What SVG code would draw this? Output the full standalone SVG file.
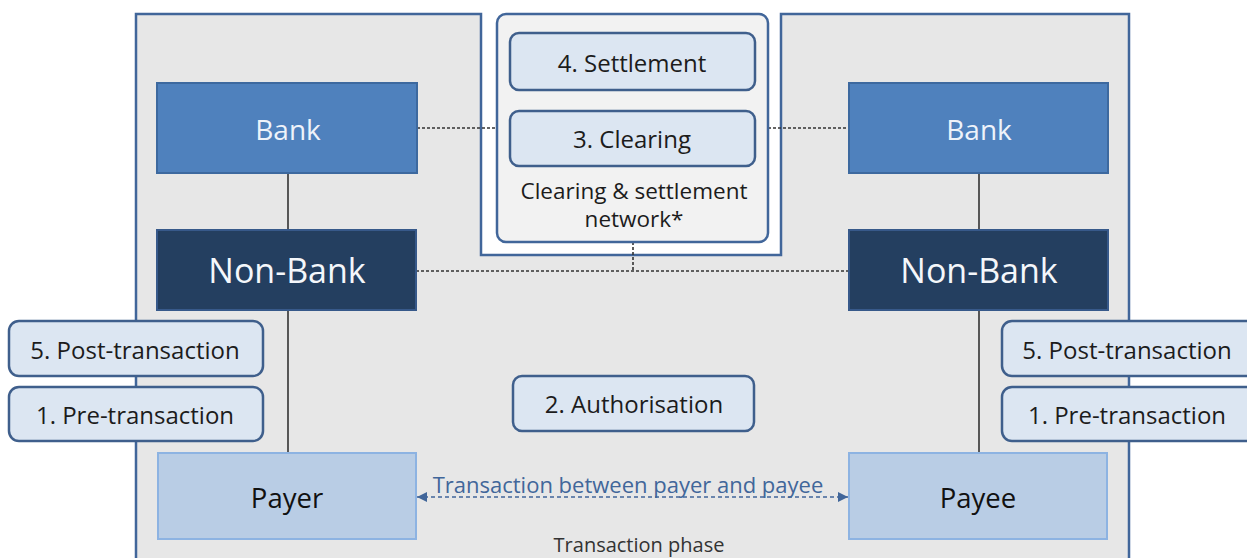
<svg xmlns="http://www.w3.org/2000/svg" width="1247" height="558" viewBox="0 0 1247 558">
<style>
text{font-family:"Open Sans","Noto Sans","DejaVu Sans",sans-serif;text-anchor:middle}
.phase{fill:#dce6f2;stroke:#3f5f8c;stroke-width:2.5}
.pt{font-size:24px;fill:#1c1c1c}
.net{font-size:22.5px;fill:#1c1c1c}
.bank{fill:#4f81bd;stroke:#3d699f;stroke-width:2}
.nb{fill:#243f60;stroke:#37598a;stroke-width:2}
.party{fill:#b9cde5;stroke:#8db3e2;stroke-width:2}
.solid{stroke:#333;stroke-width:1.6;fill:none}
.dash{stroke:#333;stroke-width:1.6;stroke-dasharray:3 2;fill:none}
</style>
<defs>
<marker id="ah" viewBox="0 0 10 10" refX="10" refY="5" markerWidth="10" markerHeight="10" markerUnits="userSpaceOnUse" orient="auto-start-reverse">
<path d="M0,0 L10,5 L0,10 z" fill="#41669a"/>
</marker>
</defs>
<rect width="1247" height="558" fill="#ffffff"/>
<g id="frame">
<path d="M136,560 L136,14 L481,14 L481,255 L781,255 L781,14 L1129,14 L1129,560" fill="#e7e7e7" stroke="#41669a" stroke-width="2.5"/>
</g>
<g id="connectors">
<line class="solid" x1="288" y1="173" x2="288" y2="230"/>
<line class="solid" x1="979" y1="173" x2="979" y2="230"/>
<line class="solid" x1="288" y1="310" x2="288" y2="453"/>
<line class="solid" x1="979" y1="310" x2="979" y2="453"/>
<line class="solid" x1="634" y1="90" x2="634" y2="111"/>
<line class="dash" x1="417" y1="128" x2="497" y2="128"/>
<line class="dash" x1="768" y1="128" x2="849" y2="128"/>
<line class="dash" x1="416" y1="271" x2="849" y2="271"/>
<line class="dash" x1="633" y1="242" x2="633" y2="271"/>
<line x1="417" y1="497" x2="848" y2="497" stroke="#41669a" stroke-width="1.6" stroke-dasharray="4 3" marker-start="url(#ah)" marker-end="url(#ah)"/>
<text x="628" y="493" style="font-size:22px;fill:#41669a">Transaction between payer and payee</text>
</g>
<g id="network">
<rect x="497" y="14" width="271" height="228" rx="9" fill="#f2f2f2" stroke="#41669a" stroke-width="2.5"/>
<text x="634" y="199" class="net">Clearing &amp; settlement</text>
<text x="634" y="227" class="net">network*</text>
</g>
<g id="settlement">
<rect class="phase" x="510" y="33" width="245" height="57" rx="9"/>
<text x="632" y="72" class="pt">4. Settlement</text>
</g>
<g id="clearing">
<rect class="phase" x="510" y="111" width="245" height="55" rx="9"/>
<text x="632" y="148" class="pt">3. Clearing</text>
</g>
<g id="bank-left">
<rect class="bank" x="157" y="83" width="260" height="90"/>
<text x="288" y="140" style="font-size:28px;fill:#eef3fa">Bank</text>
</g>
<g id="bank-right">
<rect class="bank" x="849" y="83" width="259" height="90"/>
<text x="979" y="140" style="font-size:28px;fill:#eef3fa">Bank</text>
</g>
<g id="nonbank-left">
<rect class="nb" x="157" y="230" width="259" height="80"/>
<text x="287" y="283" style="font-size:34px;fill:#f4f7fb">Non-Bank</text>
</g>
<g id="nonbank-right">
<rect class="nb" x="849" y="230" width="259" height="80"/>
<text x="979" y="283" style="font-size:34px;fill:#f4f7fb">Non-Bank</text>
</g>
<g id="post-left">
<rect class="phase" x="9" y="321" width="254" height="55" rx="10"/>
<text x="135" y="359" class="pt">5. Post-transaction</text>
</g>
<g id="pre-left">
<rect class="phase" x="9" y="387" width="254" height="54" rx="10"/>
<text x="135" y="424" class="pt">1. Pre-transaction</text>
</g>
<g id="post-right">
<rect class="phase" x="1002" y="321" width="256" height="55" rx="10"/>
<text x="1127" y="359" class="pt">5. Post-transaction</text>
</g>
<g id="pre-right">
<rect class="phase" x="1002" y="387" width="256" height="54" rx="10"/>
<text x="1127" y="424" class="pt">1. Pre-transaction</text>
</g>
<g id="authorisation">
<rect class="phase" x="513" y="376" width="241" height="55" rx="9"/>
<text x="634" y="413" class="pt">2. Authorisation</text>
</g>
<g id="payer">
<rect class="party" x="158" y="453" width="258" height="86"/>
<text x="287" y="508" style="font-size:27.5px;fill:#111">Payer</text>
</g>
<g id="payee">
<rect class="party" x="849" y="453" width="258" height="86"/>
<text x="978" y="508" style="font-size:27.5px;fill:#111">Payee</text>
</g>
<text x="639" y="552" style="font-size:20px;fill:#333">Transaction phase</text>
</svg>
